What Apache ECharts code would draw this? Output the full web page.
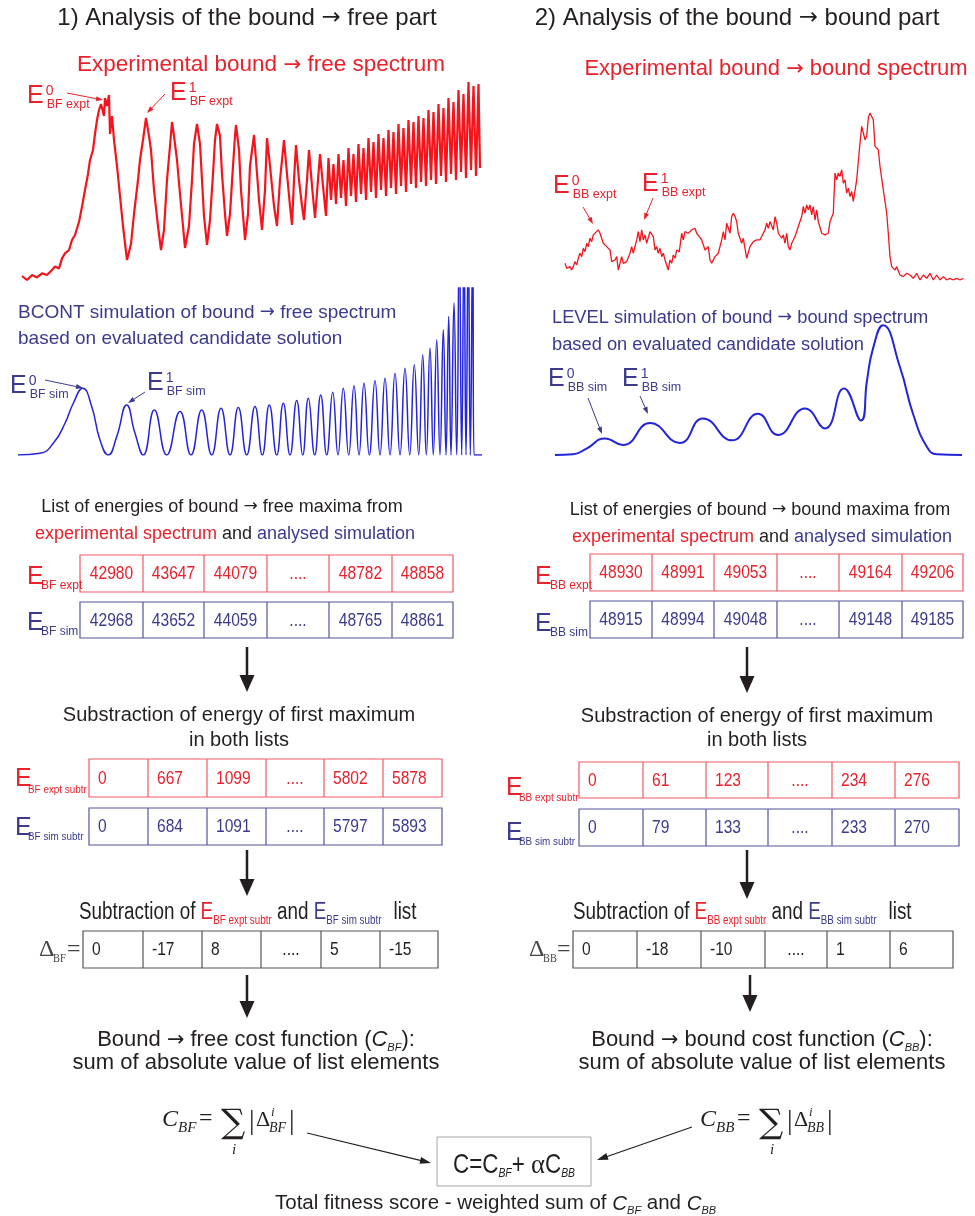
<!DOCTYPE html>
<html>
<head>
<meta charset="utf-8">
<script src="https://cdn.jsdelivr.net/npm/echarts@6/dist/echarts.min.js"></script>
<style>
html, body { margin: 0; padding: 0; background: #fff; }
#chart { width: 975px; height: 1216px; }
</style>
</head>
<body>
<div id="chart"></div>
<script>
// spectra: [channel, intensity (0-100)]
var bfExpt = [[0,2],[5,0],[10,2.5],[15,1.3],[20,3.3],[25,2.5],[30,5],[33,6.7],[37,5.8],[40,10.8],[43,13.3],[47,15],[50,20],[53,22.5],[57,29],[60,36.7],[63,45],[66,53],[68,60],[71,65],[73,73],[75,80],[77,85],[79,88],[82,82],[83,91],[85,87],[87,92.5],[88,73],[90,82],[92,70],[95,57],[98,42],[101,27],[105,10],[109,18],[112,33],[116,50],[118,60],[121,70],[124,81],[127,72],[129,65],[132,45],[136,27],[139,15],[142,25],[145,50],[148,67],[150,79],[152,72],[155,60],[158,43],[161,27],[163,16],[167,27],[170,50],[172,68],[175,78],[178,68],[180,50],[182,32],[185,17.5],[188,30],[191,53],[193,70],[195,78],[198,72],[200,53],[203,33],[205,22],[208,33],[211,57],[213,72],[214,77.5],[217,65],[219,45],[223,20],[226,33],[228,57],[232,72.5],[234,60],[237,40],[240,25],[243,45],[245,71],[248,57],[252,37],[255,27],[258,50],[262,70],[265,53],[268,37],[270,27.5],[272,50],[274,67.5],[277,50],[280,37],[282,30],[285,50],[287,65],[290,47],[293,31],[296,50],[298,63],[301,47],[304,32],
  [306.5,61],[309,40],[311.5,58],[314,38],[316.5,63],[319,41],[321.5,60],[324,37],[326.5,66],[329,42],[331.5,63],[334,39],[336.5,68],[339,43],[341.5,66],[344,40],[346.5,71],[349,44],[351.5,69],[354,41],[356.5,73],[359,45],[361.5,71],[364,42],[366.5,75],[369,46],[371.5,74],[374,43],[376.5,78],[379,47],[381.5,76],[384,44],[386.5,80],[389,48],[391.5,79],[394,46],[396.5,82],[399,49],[401.5,81],[404,47],[406.5,85],[409,50],[411.5,84],[414,48],[416.5,88],[419,52],[421.5,86],[424,49],[426.5,91],[429,53],[431.5,89],[434,50],[436.5,95],[439,54],[441.5,93],[444,51],[446.5,99],[449,55],[451.5,97],[454,52],[456.5,98],[458,56]];

var bfSim = [[0,0],[22,1],[35.3,7],[47,19],[55.3,31],[64.7,40],[73.7,29],[82,9],[90.3,0],[98.7,11],[108.7,30],[117,13],[125.3,0],[136.3,27],[148.7,0],[162,26],[173,0],[183.7,27],[193.7,0],[203,28],[212,0],[220.3,28.4],[228.7,0],[237,29],[244.3,0],[251.3,30],[258.7,0],[265.3,31],[272,0],[278.7,32.6],[284.7,0],[290.3,34],[296.7,0],[302.7,36],[308.7,0],[314.7,37.6],[320,0],[325.3,40],[330.7,0],[336,41.4],[341,0],[346,43],[351.3,0],[357,44.4],[362,0],[367,46],[372,0],[377,49],[382,0],[387,52],[391.7,0],[396.3,54],[400.7,0],[404.7,60],[408.3,0],[412,64],[415.3,0],[418.7,69],[422,0],[425.3,75],[428,0],[430.7,83],[433,0],[436,91],[438.7,0],[441.3,130],[443.7,0],[446,130],[448,0],[450.3,130],[452.3,0],[454.7,130],[456,0],[464,0]];

var bbExpt = [[0,10],[1.7,7],[5,8],[6.7,6],[8.3,8],[10,11],[11.7,9],[13.3,13],[15,16],[16.7,14],[18.3,19],[20,17],[21.7,22],[23.3,20],[25,25],[26.7,23],[28.3,27],[30,26],[33.3,30],[35,28],[38.3,22],[41.7,20],[45,18],[46.7,11],[50,12],[51.7,14],[53.3,6],[56.7,14],[58.3,10],[61.7,11],[65,16],[66.7,20],[68.3,16],[71.7,24],[73.3,29],[75,23],[76.7,30],[78.3,24],[80,27],[81.7,22],[85,29],[88.3,26],[90,18],[91.7,20],[93.3,16],[95,19],[96.7,14],[98.3,16],[100,12],[103.3,6],[105,12],[106.7,10],[108.3,15],[110,13],[111.7,18],[114.3,17],[116.7,28],[118.3,24],[120,29],[123.3,28],[126.7,30],[130,31],[131.7,28],[134.3,26],[136.7,24],[140,18],[143.3,20],[145,12],[146.7,10],[150,14],[153.3,16],[156.7,24],[158.3,29],[160,24],[161.7,34],[165,28],[166.7,38],[168.3,40],[170,38],[171.7,35],[173.3,28],[175,27],[176.7,22],[178.3,25],[180,19],[181.7,13],[183.3,12],[185,20],[186.7,21],[188.3,23],[191.7,24],[195,24],[196.7,26],[200,30],[201.7,34],[203.3,31],[205,35],[208.3,30],[210,38],[211.7,34],[213.3,28],[215,27],[216.7,25],[218.3,27],[220,22],[221.7,28],[223.3,20],[225,18],[226.7,22],[230,26],[233.3,32],[236.7,38],[238.3,44],[240,40],[241.7,45],[243.3,42],[245,45],[246.7,39],[248.3,44],[250,36],[251.7,42],[253.3,35],[256.7,28],[260,27],[263.3,28],[265,35],[268.3,40],[270,64],[271.7,60],[273.3,64],[275,62],[276.7,66],[278.3,58],[280,60],[281.7,52],[283.3,55],[285,50],[286.7,53],[288.3,47],[291.7,60],[295,82],[296.7,92],[298.3,92],[300,84],[301.7,86],[303.3,97],[305,100],[306.7,99],[308.3,96],[310,80],[313.3,78],[315,68],[318.3,54],[321.7,40],[323.3,28],[325,14],[326.7,8],[330,6],[331.7,8],[335,3],[338.3,2],[341.7,4],[345,3],[348.3,1],[351.7,4],[355,0],[358.3,3],[361.7,1],[365,4],[368.3,0],[371.7,3],[375,0],[378.3,2],[381.7,0],[385,1],[388.3,0],[391.7,1],[395,0],[398.3,1]];

var bbSim = [[0,0],[18,0.5],[32,5],[50,12.5],[68,7.5],[95,24],[125,9],[148,27.5],[177,11],[203,31],[223,15],[250,35],[270,20],[289,50],[306,26],[312,56],[318,80],[328,97.5],[345,66],[358,31],[372,6],[382,0.5],[407,0]];

// lists of maxima
var bfExptList = ['42980', '43647', '44079', '....', '48782', '48858'];
var bfSimList = ['42968', '43652', '44059', '....', '48765', '48861'];
var bbExptList = ['48930', '48991', '49053', '....', '49164', '49206'];
var bbSimList = ['48915', '48994', '49048', '....', '49148', '49185'];
var bfExptSub = ['0', '667', '1099', '....', '5802', '5878'];
var bfSimSub = ['0', '684', '1091', '....', '5797', '5893'];
var bbExptSub = ['0', '61', '123', '....', '234', '276'];
var bbSimSub = ['0', '79', '133', '....', '233', '270'];
var deltaBF = ['0', '-17', '8', '....', '5', '-15'];
var deltaBB = ['0', '-18', '-10', '....', '1', '6'];

var chart = echarts.init(document.getElementById('chart'));

var SANS = '"Liberation Sans", Arial, sans-serif';
var ARW = '"DejaVu Sans", sans-serif';
var SERIF = '"Liberation Serif", "Times New Roman", serif';
var DSERIF = '"DejaVu Serif", serif';
var DARK = '#231f20', RED = '#e8212b', BLUE = '#3b3a8d';
var LINE_RED = '#f5141c', LINE_BLUE = '#2424dc';

var G = [];
var mctx = document.createElement('canvas').getContext('2d');

function tw(t, o) {
  mctx.font = (o.i ? 'italic ' : '') + (o.s || 18) + 'px ' + (o.f || SANS);
  return mctx.measureText(t).width * (o.sx || 1);
}

// text placed by its baseline
function txt(x, base, t, o) {
  o = o || {};
  var s = o.s || 18;
  var w = tw(t, o);
  var x0 = o.a === 'center' ? x - w / 2 : (o.a === 'right' ? x - w : x);
  G.push({
    type: 'text', silent: true, z: 10, x: x0, y: base - 0.35 * s, scaleX: o.sx || 1,
    style: { text: t, fontSize: s, fontFamily: o.f || SANS, fontStyle: o.i ? 'italic' : 'normal',
      fill: o.c || DARK, align: 'left', verticalAlign: 'middle' }
  });
  return w;
}

// a run of text pieces, each [text, opts]
function seq(x, base, parts, center) {
  var ws = parts.map(function (p) { return tw(p[0], p[1] || {}) + ((p[1] || {}).g || 0); });
  var tot = ws.reduce(function (a, b) { return a + b; }, 0);
  var cx = center ? x - tot / 2 : x;
  parts.forEach(function (p, k) {
    var o = p[1] || {};
    txt(cx, base + (o.dy || 0), p[0], o);
    cx += ws[k];
  });
}

// split a string on the arrow so the arrow uses a font with a long thin glyph
function arrowParts(str, o) {
  var bits = str.split('\u2192'), out = [];
  bits.forEach(function (b, k) {
    if (k > 0) out.push(['\u2192', { s: o.s * 0.95, f: ARW, c: o.c, dy: -0.02 * o.s }]);
    if (b) out.push([b, o]);
  });
  return out;
}
function atxt(x, base, str, o, center) { seq(x, base, arrowParts(str, o), center); }

function arrow(x1, y1, x2, y2, lw, hl, hw, col) {
  var dx = x2 - x1, dy = y2 - y1, L = Math.sqrt(dx * dx + dy * dy), ux = dx / L, uy = dy / L;
  var bx = x2 - ux * hl, by = y2 - uy * hl;
  G.push({ type: 'line', silent: true, shape: { x1: x1, y1: y1, x2: bx + ux, y2: by + uy }, style: { stroke: col, lineWidth: lw } });
  G.push({ type: 'polygon', silent: true, shape: { points: [[x2, y2], [bx - uy * hw / 2, by + ux * hw / 2], [bx + uy * hw / 2, by - ux * hw / 2]] }, style: { fill: col } });
}

// E label with superscript and subscript
function elab(x, base, sup, sub, col) {
  var w = txt(x, base, 'E', { s: 25, c: col });
  if (sup) txt(x + w + 2, base - 9, sup, { s: 14, c: col });
  txt(x + w + 3, base + 4, sub, { s: 12.5, c: col });
}

// table row: xs are cell edges
function row(xs, y0, y1, vals, col, stroke, centered) {
  var n = xs.length - 1;
  G.push({ type: 'rect', silent: true, shape: { x: xs[0], y: y0, width: xs[n] - xs[0], height: y1 - y0 }, style: { fill: 'none', stroke: stroke, lineWidth: 1.2 } });
  for (var k = 1; k < n; k++) {
    G.push({ type: 'line', silent: true, shape: { x1: xs[k], y1: y0, x2: xs[k], y2: y1 }, style: { stroke: stroke, lineWidth: 1.2 } });
  }
  var base = (y0 + y1) / 2 + 7;
  vals.forEach(function (v, k) {
    if (centered || v === '....') txt((xs[k] + xs[k + 1]) / 2, base, v, { s: 19, sx: 0.82, c: col, a: 'center' });
    else txt(xs[k] + 9, base, v, { s: 19, sx: 0.82, c: col });
  });
}

// ---- headings ----
atxt(247, 27, '1) Analysis of the bound \u2192 free part', { s: 24 }, true);
atxt(737, 27, '2) Analysis of the bound \u2192 bound part', { s: 24 }, true);
atxt(261, 73, 'Experimental bound \u2192 free spectrum', { s: 22.5, c: RED }, true);
atxt(776, 77, 'Experimental bound \u2192 bound spectrum', { s: 22, c: RED }, true);
atxt(18, 319, 'BCONT simulation of bound \u2192 free spectrum', { s: 19, c: BLUE }, false);
txt(18, 345, 'based on evaluated candidate solution', { s: 19, c: BLUE });
atxt(552, 324, 'LEVEL simulation of bound \u2192 bound spectrum', { s: 18.3, c: BLUE }, false);
txt(552, 351, 'based on evaluated candidate solution', { s: 18.3, c: BLUE });

// ---- peak labels ----
elab(27, 105, '0', 'BF expt', RED);
arrow(67, 93, 103, 100, 1, 7, 5, RED);
elab(170, 102, '1', 'BF expt', RED);
arrow(165, 94, 147, 113, 1, 7, 5, RED);
elab(10, 395, '0', 'BF sim', BLUE);
arrow(45, 380, 83, 388, 1, 7, 5, BLUE);
elab(147, 392, '1', 'BF sim', BLUE);
arrow(145, 392, 128, 403, 1, 7, 5, BLUE);
elab(553, 195, '0', 'BB expt', RED);
arrow(583, 207, 593, 224, 1, 7, 5, RED);
elab(642, 193, '1', 'BB expt', RED);
arrow(653, 198, 644, 220, 1, 7, 5, RED);
elab(548, 388, '0', 'BB sim', BLUE);
arrow(588, 398, 602, 434, 1, 7, 5, BLUE);
elab(622, 388, '1', 'BB sim', BLUE);
arrow(640, 396, 648, 414, 1, 7, 5, BLUE);

// ---- list of maxima ----
atxt(222, 513, 'List of energies of bound \u2192 free maxima from', { s: 18 }, true);
seq(225, 540, [['experimental spectrum', { s: 18, c: RED }], [' and ', { s: 18 }], ['analysed simulation', { s: 18, c: BLUE }]], true);
atxt(760, 516, 'List of energies of bound \u2192 bound maxima from', { s: 18 }, true);
seq(762, 543, [['experimental spectrum', { s: 18, c: RED }], [' and ', { s: 18 }], ['analysed simulation', { s: 18, c: BLUE }]], true);

var xsT1L = [80, 143, 204, 267, 329, 392, 453];
var xsT1R = [590, 652, 714, 777, 839, 902, 963];
row(xsT1L, 555, 592, bfExptList, RED, '#ef5a64', true);
row(xsT1L, 602, 638, bfSimList, BLUE, '#55559e', true);
row(xsT1R, 554, 591, bbExptList, RED, '#ef5a64', true);
row(xsT1R, 601, 638, bbSimList, BLUE, '#55559e', true);
txt(27, 586, 'E', { s: 25, c: RED }); txt(41, 590, 'BF expt', { s: 12, c: RED });
txt(27, 632, 'E', { s: 25, c: BLUE }); txt(41, 636, 'BF sim', { s: 12, c: BLUE });
txt(535, 586, 'E', { s: 25, c: RED }); txt(550, 590, 'BB expt', { s: 12, c: RED });
txt(535, 633, 'E', { s: 25, c: BLUE }); txt(550, 637, 'BB sim', { s: 12, c: BLUE });

// ---- subtraction of first maximum ----
arrow(247, 647, 247, 692, 2.5, 17, 15, DARK);
arrow(747, 647, 747, 693, 2.5, 17, 15, DARK);
txt(239, 722, 'Substraction of energy of first maximum', { s: 20, a: 'center' });
txt(239, 747, 'in both lists', { s: 20, a: 'center' });
txt(757, 723, 'Substraction of energy of first maximum', { s: 20, a: 'center' });
txt(757, 747, 'in both lists', { s: 20, a: 'center' });

var xsT2L = [89, 148, 207, 266, 324, 383, 442];
var xsT2R = [579, 643, 706, 768, 832, 895, 959];
row(xsT2L, 759, 797, bfExptSub, RED, '#ef5a64', false);
row(xsT2L, 808, 845, bfSimSub, BLUE, '#55559e', false);
row(xsT2R, 762, 798, bbExptSub, RED, '#ef5a64', false);
row(xsT2R, 809, 846, bbSimSub, BLUE, '#55559e', false);
txt(15, 788, 'E', { s: 25, c: RED }); txt(28, 794, 'BF expt subtr', { s: 11, c: RED, sx: 0.9 });
txt(15, 837, 'E', { s: 25, c: BLUE }); txt(28, 841, 'BF sim subtr', { s: 11, c: BLUE, sx: 0.9 });
txt(506, 797, 'E', { s: 25, c: RED }); txt(519, 802, 'BB expt subtr', { s: 11, c: RED, sx: 0.9 });
txt(506, 842, 'E', { s: 25, c: BLUE }); txt(519, 846, 'BB sim subtr', { s: 11, c: BLUE, sx: 0.9 });

// ---- difference lists ----
arrow(247, 850, 247, 896, 2.5, 17, 15, DARK);
arrow(747, 850, 747, 899, 2.5, 17, 15, DARK);
[[79, 'BF'], [573, 'BB']].forEach(function (p) {
  seq(p[0], 921, [
    ['Subtraction of ', { s: 23, sx: 0.82 }],
    ['E', { s: 23, sx: 0.82, c: RED }],
    [p[1] + ' expt subtr', { s: 12, sx: 0.82, c: RED, dy: 4 }],
    [' and ', { s: 23, sx: 0.82 }],
    ['E', { s: 23, sx: 0.82, c: BLUE }],
    [p[1] + ' sim subtr', { s: 12, sx: 0.82, c: BLUE, dy: 4, g: 12 }],
    ['list', { s: 23, sx: 0.82 }]
  ], false);
});
row([83, 143, 202, 261, 321, 380, 438], 931, 968, deltaBF, DARK, '#555', false);
row([573, 637, 701, 765, 827, 890, 953], 931, 968, deltaBB, DARK, '#555', false);
txt(39, 958, '\u0394', { s: 24, f: SERIF, c: '#444' }); txt(53, 963, 'BF', { s: 13, f: SERIF, sx: 0.8, c: '#444' }); txt(67, 958, '=', { s: 24, f: SERIF, c: '#444' });
txt(529, 958, '\u0394', { s: 24, f: SERIF, c: '#444' }); txt(543, 963, 'BB', { s: 13, f: SERIF, sx: 0.8, c: '#444' }); txt(557, 958, '=', { s: 24, f: SERIF, c: '#444' });

// ---- cost functions ----
arrow(247, 975, 247, 1018, 2.5, 17, 15, DARK);
arrow(750, 975, 750, 1012, 2.5, 17, 15, DARK);
seq(256, 1048, arrowParts('Bound \u2192 free cost function (', { s: 22 }).concat([['C', { s: 22, i: true }], ['BF', { s: 11, i: true, dy: 4 }], ['):', { s: 22 }]]), true);
txt(256, 1071, 'sum of absolute value of list elements', { s: 22, a: 'center' });
seq(762, 1048, arrowParts('Bound \u2192 bound cost function (', { s: 22 }).concat([['C', { s: 22, i: true }], ['BB', { s: 11, i: true, dy: 4 }], ['):', { s: 22 }]]), true);
txt(762, 1071, 'sum of absolute value of list elements', { s: 22, a: 'center' });

// ---- sum formulas ----
[[0, 'BF'], [538, 'BB']].forEach(function (p) {
  var d = p[0];
  txt(162 + d, 1128, 'C', { s: 24, f: SERIF, i: true });
  txt(178 + d, 1133, p[1], { s: 15, f: SERIF, i: true });
  txt(199 + d, 1127, '=', { s: 24, f: SERIF });
  txt(221 + d, 1136, '\u2211', { s: 34, f: DSERIF });
  txt(232 + d, 1155, 'i', { s: 15, f: SERIF, i: true });
  txt(249 + d, 1131, '|', { s: 28, f: SERIF });
  txt(256 + d, 1128, '\u0394', { s: 22, f: SERIF });
  txt(271 + d, 1117, 'i', { s: 13, f: SERIF, i: true });
  txt(269 + d, 1133, p[1], { s: 14, f: SERIF, i: true });
  txt(289 + d, 1131, '|', { s: 28, f: SERIF });
});
arrow(307, 1133, 431, 1163, 1.2, 11, 7, DARK);
arrow(692, 1127, 597, 1160, 1.2, 11, 7, DARK);
G.push({ type: 'rect', silent: true, shape: { x: 437, y: 1137, width: 154, height: 49 }, style: { fill: 'none', stroke: '#a5a5a5', lineWidth: 1 } });
seq(514, 1175, [
  ['C=C', { s: 28, sx: 0.8 }], ['BF', { s: 13, i: true, sx: 0.8, dy: 3 }], ['+ ', { s: 28, sx: 0.8 }],
  ['\u03b1', { s: 28, f: SERIF, sx: 0.95 }], ['C', { s: 28, sx: 0.8 }], ['BB', { s: 13, i: true, sx: 0.8, dy: 3 }]
], true);
seq(275, 1211, [['Total fitness score - weighted sum of ', { s: 20.5 }], ['C', { s: 20.5, i: true }], ['BF', { s: 11, i: true, dy: 4 }],
  [' and ', { s: 20.5 }], ['C', { s: 20.5, i: true }], ['BB', { s: 11, i: true, dy: 4 }]], false);

// ---- spectra ----
var grids = [
  { left: 22, top: 80, width: 458, height: 200 },
  { left: 18, top: 288, width: 464, height: 167 },
  { left: 565, top: 113, width: 398, height: 167 },
  { left: 555, top: 322, width: 407, height: 133 }
];
var xMax = [458, 464, 398, 407];
var spectra = [bfExpt, bfSim, bbExpt, bbSim];
var lineCols = [LINE_RED, LINE_BLUE, LINE_RED, LINE_BLUE];
var lineW = [2.2, 1.5, 1.3, 2];

var option = {
  backgroundColor: '#fff',
  animation: false,
  grid: grids,
  xAxis: grids.map(function (g, i) { return { type: 'value', gridIndex: i, min: 0, max: xMax[i], show: false }; }),
  yAxis: grids.map(function (g, i) { return { type: 'value', gridIndex: i, min: 0, max: 100, show: false }; }),
  series: spectra.map(function (d, i) {
    return {
      type: 'line', xAxisIndex: i, yAxisIndex: i, data: d, showSymbol: false,
      smooth: (i === 1 || i === 3), clip: true,
      lineStyle: { color: lineCols[i], width: lineW[i] }
    };
  }),
  graphic: { elements: G }
};
chart.setOption(option);
</script>
</body>
</html>
